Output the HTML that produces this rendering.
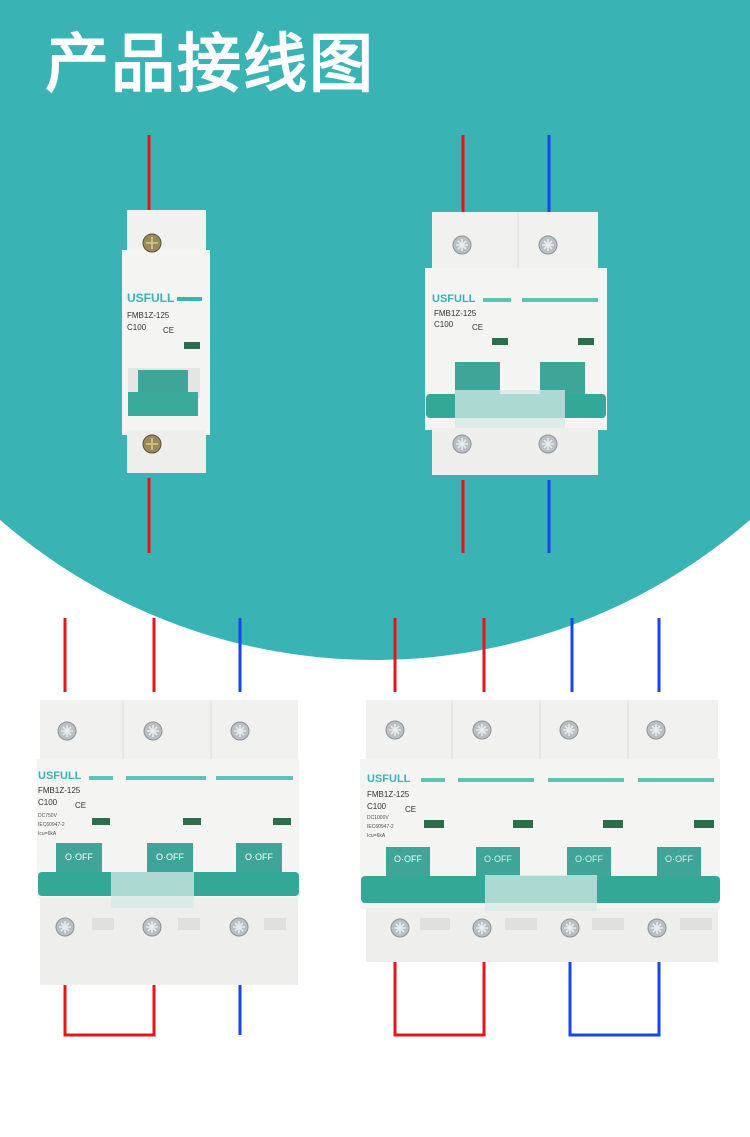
<!DOCTYPE html>
<html><head><meta charset="utf-8"><style>
html,body{margin:0;padding:0;width:750px;height:1137px;overflow:hidden;background:#fff}
svg{display:block}
.t{font-family:"Liberation Sans",sans-serif}
</style></head><body>
<svg width="750" height="1137" viewBox="0 0 750 1137" xmlns="http://www.w3.org/2000/svg">
<defs>
<g id="scr"><circle r="9" fill="#b9bfc2" stroke="#8c9396" stroke-width="1"/><path d="M-6 0H6M0 -6V6M-4 -4L4 4M-4 4L4 -4" stroke="#e8eced" stroke-width="1.6"/></g>
<g id="scrb"><circle r="9" fill="#9a8a5a" stroke="#5b5030" stroke-width="1"/><path d="M-6 0H6M0 -6V6" stroke="#cbbd86" stroke-width="2"/></g>
</defs>
<!-- background -->
<rect x="0" y="0" width="750" height="520" fill="#3ab3b5"/>
<circle cx="375" cy="88" r="572" fill="#3ab3b5"/>
<rect x="0" y="520" width="750" height="20" fill="#3ab3b5" clip-path="none" opacity="0"/>
<text x="45" y="86" class="t" font-family="'Liberation Sans','Noto Sans CJK SC',sans-serif" font-size="64" font-weight="bold" fill="#fff" letter-spacing="2">产品接线图</text>

<!-- wires top section -->
<g stroke-width="3" fill="none">
<path d="M149 135V210M149 478V553" stroke="#e8141c"/>
<path d="M463 135V212M463 480V553" stroke="#e8141c"/>
<path d="M549 135V212M549 480V553" stroke="#1646f0"/>
<path d="M65 618V692M154 618V692M65 965V1035H154V965" stroke="#e8141c"/>
<path d="M240 618V692M240 965V1035" stroke="#1646f0"/>
<path d="M395 618V692M484 618V692M395 962V1035H484V962" stroke="#e8141c"/>
<path d="M572 618V692M659 618V692M570 962V1035H659V962" stroke="#1646f0"/>
</g>

<!-- Breaker 1 -->
<g>
<rect x="127" y="210" width="79" height="45" fill="#f1f1f0"/>
<rect x="122" y="250" width="88" height="185" fill="#f4f4f3"/>
<rect x="127" y="430" width="79" height="43" fill="#eeeeed"/>
<use href="#scrb" x="152" y="243"/>
<use href="#scrb" x="152" y="444"/>
<text x="127" y="302" class="t" font-size="12" font-weight="bold" fill="#3ab3b5">USFULL</text>
<rect x="177" y="297" width="25" height="4" fill="#3ab3b5"/>
<text x="127" y="318" class="t" font-size="8" fill="#333">FMB1Z-125</text>
<text x="127" y="330" class="t" font-size="8" fill="#333">C100</text>
<text x="163" y="333" class="t" font-size="8" fill="#333">CE</text>
<rect x="184" y="342" width="16" height="7" fill="#2a6e4a"/>
<rect x="128" y="368" width="72" height="30" fill="#e4e6e5"/>
<rect x="138" y="370" width="50" height="22" fill="#3fa598"/>
<rect x="128" y="392" width="70" height="24" fill="#3aab9a"/>
</g>

<!-- Breaker 2 -->
<g>
<rect x="432" y="212" width="166" height="58" fill="#f1f1f0"/>
<line x1="518" y1="212" x2="518" y2="270" stroke="#ddd"/>
<rect x="425" y="268" width="182" height="162" fill="#f4f4f3"/>
<rect x="432" y="428" width="166" height="47" fill="#eeeeed"/>
<use href="#scr" x="462" y="245"/><use href="#scr" x="548" y="245"/>
<use href="#scr" x="462" y="444"/><use href="#scr" x="548" y="444"/>
<text x="432" y="302" class="t" font-size="11" font-weight="bold" fill="#3ab3b5">USFULL</text>
<rect x="483" y="298" width="28" height="4" fill="#5cc4b5"/>
<rect x="522" y="298" width="76" height="4" fill="#5cc4b5"/>
<text x="434" y="316" class="t" font-size="8" fill="#333">FMB1Z-125</text>
<text x="434" y="327" class="t" font-size="8" fill="#333">C100</text>
<text x="472" y="330" class="t" font-size="8" fill="#333">CE</text>
<rect x="492" y="338" width="16" height="7" fill="#2a6e4a"/>
<rect x="578" y="338" width="16" height="7" fill="#2a6e4a"/>
<rect x="455" y="362" width="45" height="36" fill="#3fa598"/>
<rect x="540" y="362" width="45" height="36" fill="#3fa598"/>
<rect x="426" y="394" width="180" height="24" rx="4" fill="#33a897"/>
<rect x="455" y="390" width="110" height="38" fill="#d6e9e6" opacity="0.75"/>
</g>

<!-- Breaker 3 -->
<g>
<rect x="40" y="700" width="258" height="62" fill="#f1f1f0"/>
<line x1="123" y1="700" x2="123" y2="762" stroke="#ddd"/><line x1="211" y1="700" x2="211" y2="762" stroke="#ddd"/>
<rect x="37" y="759" width="262" height="140" fill="#f4f4f3"/>
<rect x="40" y="898" width="258" height="87" fill="#eeeeed"/>
<use href="#scr" x="67" y="731"/><use href="#scr" x="153" y="731"/><use href="#scr" x="240" y="731"/>
<use href="#scr" x="65" y="927"/><use href="#scr" x="152" y="927"/><use href="#scr" x="239" y="927"/>
<rect x="92" y="918" width="22" height="12" fill="#e0e0e0"/><rect x="178" y="918" width="22" height="12" fill="#e0e0e0"/><rect x="264" y="918" width="22" height="12" fill="#e0e0e0"/>
<text x="38" y="779" class="t" font-size="11" font-weight="bold" fill="#3ab3b5">USFULL</text>
<rect x="89" y="776" width="24" height="4" fill="#5cc4b5"/>
<rect x="126" y="776" width="80" height="4" fill="#5cc4b5"/>
<rect x="216" y="776" width="77" height="4" fill="#5cc4b5"/>
<text x="38" y="793" class="t" font-size="8" fill="#333">FMB1Z-125</text>
<text x="38" y="805" class="t" font-size="8" fill="#333">C100</text>
<text x="75" y="808" class="t" font-size="8" fill="#333">CE</text>
<text x="38" y="817" class="t" font-size="5" fill="#555">DC750V</text>
<text x="38" y="826" class="t" font-size="5" fill="#555">IEC60947-2</text>
<text x="38" y="835" class="t" font-size="5" fill="#555">Icu=6kA</text>
<rect x="92" y="818" width="18" height="7" fill="#2a6e4a"/>
<rect x="183" y="818" width="18" height="7" fill="#2a6e4a"/>
<rect x="273" y="818" width="18" height="7" fill="#2a6e4a"/>
<rect x="56" y="843" width="46" height="32" fill="#3fa598"/>
<rect x="147" y="843" width="46" height="32" fill="#3fa598"/>
<rect x="236" y="843" width="46" height="32" fill="#3fa598"/>
<text x="79" y="860" class="t" font-size="9" fill="#fff" text-anchor="middle">O·OFF</text>
<text x="170" y="860" class="t" font-size="9" fill="#fff" text-anchor="middle">O·OFF</text>
<text x="259" y="860" class="t" font-size="9" fill="#fff" text-anchor="middle">O·OFF</text>
<rect x="38" y="872" width="261" height="24" rx="4" fill="#33a897"/>
<rect x="111" y="872" width="83" height="36" fill="#d6e9e6" opacity="0.75"/>
</g>

<!-- Breaker 4 -->
<g>
<rect x="366" y="700" width="352" height="62" fill="#f1f1f0"/>
<line x1="452" y1="700" x2="452" y2="762" stroke="#ddd"/><line x1="540" y1="700" x2="540" y2="762" stroke="#ddd"/><line x1="628" y1="700" x2="628" y2="762" stroke="#ddd"/>
<rect x="360" y="759" width="360" height="150" fill="#f4f4f3"/>
<rect x="366" y="908" width="352" height="54" fill="#eeeeed"/>
<use href="#scr" x="395" y="730"/><use href="#scr" x="482" y="730"/><use href="#scr" x="569" y="730"/><use href="#scr" x="656" y="730"/>
<use href="#scr" x="400" y="928"/><use href="#scr" x="482" y="928"/><use href="#scr" x="570" y="928"/><use href="#scr" x="657" y="928"/>
<rect x="420" y="918" width="30" height="12" fill="#e0e0e0"/><rect x="505" y="918" width="32" height="12" fill="#e0e0e0"/><rect x="592" y="918" width="32" height="12" fill="#e0e0e0"/><rect x="680" y="918" width="32" height="12" fill="#e0e0e0"/>
<text x="367" y="782" class="t" font-size="11" font-weight="bold" fill="#3ab3b5">USFULL</text>
<rect x="421" y="778" width="24" height="4" fill="#5cc4b5"/>
<rect x="458" y="778" width="76" height="4" fill="#5cc4b5"/>
<rect x="548" y="778" width="76" height="4" fill="#5cc4b5"/>
<rect x="638" y="778" width="76" height="4" fill="#5cc4b5"/>
<text x="367" y="797" class="t" font-size="8" fill="#333">FMB1Z-125</text>
<text x="367" y="809" class="t" font-size="8" fill="#333">C100</text>
<text x="405" y="812" class="t" font-size="8" fill="#333">CE</text>
<text x="367" y="819" class="t" font-size="5" fill="#555">DC1000V</text>
<text x="367" y="828" class="t" font-size="5" fill="#555">IEC60947-2</text>
<text x="367" y="837" class="t" font-size="5" fill="#555">Icu=6kA</text>
<rect x="424" y="820" width="20" height="8" fill="#2a6e4a"/>
<rect x="513" y="820" width="20" height="8" fill="#2a6e4a"/>
<rect x="603" y="820" width="20" height="8" fill="#2a6e4a"/>
<rect x="694" y="820" width="20" height="8" fill="#2a6e4a"/>
<rect x="386" y="847" width="44" height="32" fill="#3fa598"/>
<rect x="476" y="847" width="44" height="32" fill="#3fa598"/>
<rect x="567" y="847" width="44" height="32" fill="#3fa598"/>
<rect x="657" y="847" width="44" height="32" fill="#3fa598"/>
<text x="408" y="862" class="t" font-size="9" fill="#fff" text-anchor="middle">O·OFF</text>
<text x="498" y="862" class="t" font-size="9" fill="#d8eeea" text-anchor="middle">O·OFF</text>
<text x="589" y="862" class="t" font-size="9" fill="#d8eeea" text-anchor="middle">O·OFF</text>
<text x="679" y="862" class="t" font-size="9" fill="#d8eeea" text-anchor="middle">O·OFF</text>
<rect x="361" y="876" width="359" height="27" rx="4" fill="#33a897"/>
<rect x="485" y="875" width="112" height="36" fill="#d6e9e6" opacity="0.75"/>
</g>
</svg>
</body></html>
